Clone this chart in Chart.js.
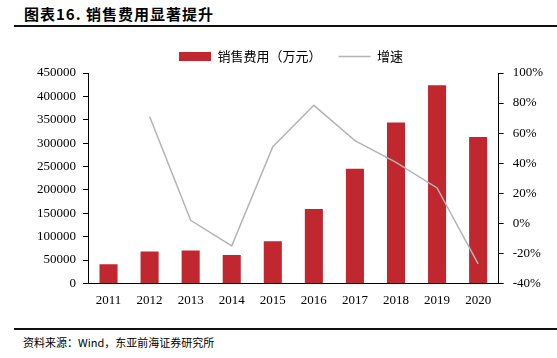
<!DOCTYPE html>
<html>
<head>
<meta charset="utf-8">
<script src="https://cdn.jsdelivr.net/npm/chart.js@4"></script>
<style>
    body { margin: 0; width: 557px; height: 358px; background: #fff; position: relative; overflow: hidden; }
    #title { position: absolute; left: 24px; top: 3px; font: bold 15px "Noto Sans CJK SC", sans-serif; letter-spacing: 1px; color: #000; }
    .rule { position: absolute; left: 14px; right: 0; height: 2px; background: #111; }
    #source { position: absolute; left: 23px; top: 334px; font: 11px "Noto Sans CJK SC", serif; color: #000; }
    #wrap { position: absolute; left: 0; top: 33px; width: 557px; height: 284px; }
</style>
</head>
<body>
<div id="title">图表16. 销售费用显著提升</div>
<div class="rule" style="top:25px"></div>
<div id="wrap"><canvas id="chart"></canvas></div>
<div class="rule" style="top:328px"></div>
<div id="source">资料来源：Wind，东亚前海证券研究所</div>
<script>
// Data
const years = ["2011", "2012", "2013", "2014", "2015", "2016", "2017", "2018", "2019", "2020"];
const salesExpense = [41000, 68000, 70500, 60500, 90000, 159000, 245000, 344000, 424000, 313000]; // 万元
const growthRate = [null, 71, 2, -15, 51, 78.5, 55, 40.5, 23.5, -27]; // %

const tickFont = { family: "'Liberation Serif', 'Times New Roman', serif", size: 13 };

new Chart(document.getElementById("chart"), {
    data: {
        labels: years,
        datasets: [{
            type: "bar",
            label: "销售费用（万元）",
            data: salesExpense,
            backgroundColor: "#C1272F",
            yAxisID: "y",
            barPercentage: 0.44,
            categoryPercentage: 1,
            order: 2,
            pointStyle: "rect"
        }, {
            type: "line",
            label: "增速",
            data: growthRate,
            borderColor: "#B4B4B4",
            backgroundColor: "#B4B4B4",
            borderWidth: 1.5,
            pointRadius: 0,
            tension: 0,
            yAxisID: "y1",
            order: 1,
            pointStyle: "line"
        }]
    },
    options: {
        responsive: true,
        maintainAspectRatio: false,
        animation: false,
        layout: { padding: { left: 30, right: 5, top: 0, bottom: 0 } },
        plugins: {
            legend: {
                position: "top",
                labels: {
                    usePointStyle: true,
                    pointStyleWidth: 32,
                    boxHeight: 9,
                    padding: 17,
                    color: "#000",
                    font: { family: "'Noto Sans CJK SC', serif", size: 13 },
                    sort: (a, b) => a.datasetIndex - b.datasetIndex
                }
            },
            tooltip: { enabled: false }
        },
        scales: {
            x: {
                grid: { display: false, drawTicks: false },
                border: { display: true, color: "#000", width: 1 },
                ticks: { color: "#000", font: tickFont, padding: 9, maxRotation: 0 }
            },
            y: {
                position: "left",
                min: 0,
                max: 450000,
                grid: { drawOnChartArea: false, drawTicks: true, tickLength: 5, color: "#000" },
                border: { display: true, color: "#000", width: 1 },
                ticks: { stepSize: 50000, color: "#000", font: tickFont, padding: 7, callback: v => String(v) }
            },
            y1: {
                position: "right",
                min: -40,
                max: 100,
                grid: { drawOnChartArea: false, drawTicks: true, tickLength: 5, color: "#000" },
                border: { display: true, color: "#000", width: 1 },
                ticks: { stepSize: 20, color: "#000", font: tickFont, padding: 9, callback: v => v + "%" }
            }
        }
    }
});
</script>
</body>
</html>
